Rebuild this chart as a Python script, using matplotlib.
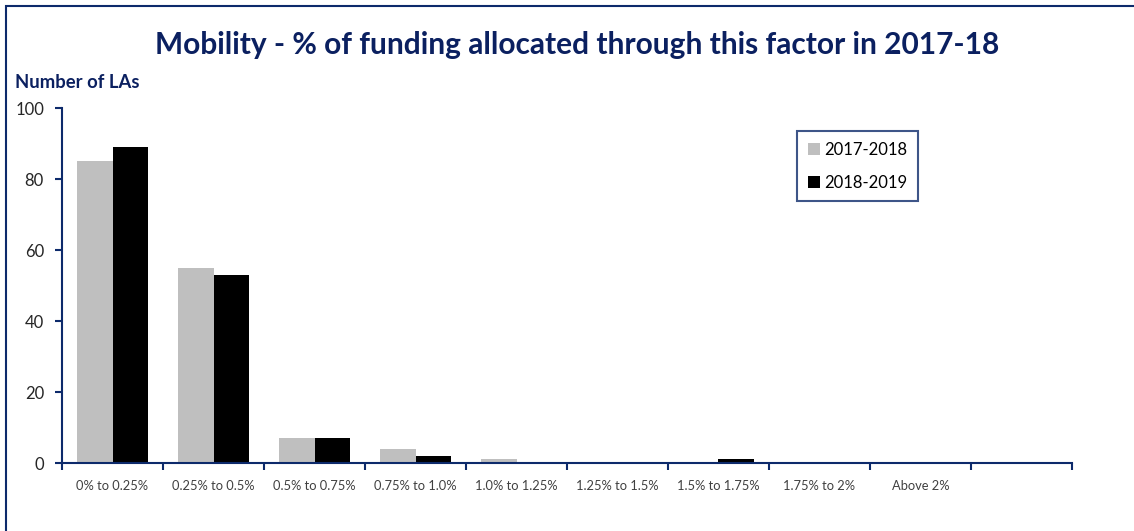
import matplotlib
matplotlib.use("Agg")
import matplotlib.pyplot as plt
from matplotlib.patches import Rectangle
import numpy as np

plt.rcParams['font.family'] = ['Lato', 'DejaVu Sans']

# Data
categories = ['0% to 0.25%', '0.25% to 0.5%', '0.5% to 0.75%', '0.75% to 1.0%',
              '1.0% to 1.25%', '1.25% to 1.5%', '1.5% to 1.75%', '1.75% to 2%',
              'Above 2%', '']
counts_2017 = [85, 55, 7, 4, 1, 0, 0, 0, 0, 0]
counts_2018 = [89, 53, 7, 2, 0, 0, 1, 0, 0, 0]

navy = '#0d2a6b'
title_col = '#0b2060'

fig = plt.figure(figsize=(11.34, 5.31), dpi=100)
ax = fig.add_axes([0.0547, 0.128, 0.8906, 0.6686])

x = np.arange(len(categories))
w = 0.356
ax.bar(x - w / 2, counts_2017, width=w, color='#bfbfbf', label='2017-2018')
ax.bar(x + w / 2, counts_2018, width=w, color='#000000', label='2018-2019')

ax.set_xlim(-0.5, len(categories) - 0.5)
ax.set_ylim(0, 100)
ax.set_yticks([0, 20, 40, 60, 80, 100])

# category labels centred, ticks on the boundaries
ax.set_xticks(np.arange(-0.5, len(categories)), minor=False)
ax.set_xticklabels([])
ax.set_xticks(x, minor=True)
ax.set_xticklabels(categories, minor=True, fontsize=9.3, color='#404040')
ax.tick_params(axis='x', which='minor', length=0, pad=12)
ax.tick_params(axis='x', which='major', length=5, width=1.5, color=navy, direction='out')
ax.tick_params(axis='y', length=5, width=1.5, color=navy, direction='out',
               labelsize=12, labelcolor='#262626', pad=8)

for s in ['top', 'right']:
    ax.spines[s].set_visible(False)
for s in ['left', 'bottom']:
    ax.spines[s].set_color(navy)
    ax.spines[s].set_linewidth(1.5)

leg = ax.legend(loc='upper left', bbox_to_anchor=(797 / 1134, 1 - 131 / 531),
                bbox_transform=fig.transFigure, fontsize=12, frameon=True,
                fancybox=False, handlelength=0.7, handleheight=0.7,
                labelspacing=1.0, borderpad=0.65, handletextpad=0.3,
                borderaxespad=0)
leg.get_frame().set_edgecolor(navy)
leg.get_frame().set_linewidth(1.5)

fig.text(0.509, 1 - 45 / 531, 'Mobility - % of funding allocated through this factor in 2017-18',
         ha='center', va='center', fontsize=21.5, fontweight='bold', color=title_col)
fig.text(15 / 1134, 1 - 83 / 531, 'Number of LAs', ha='left', va='center',
         fontsize=13.3, fontweight='bold', color=title_col)

# outer border of the chart area
fig.patches.append(Rectangle((6 / 1134, -0.1), 1.2, 1 - 6 / 531 + 0.1,
                             transform=fig.transFigure, fill=False,
                             edgecolor=navy, linewidth=1.5))

fig.savefig('out.png', dpi=100)
